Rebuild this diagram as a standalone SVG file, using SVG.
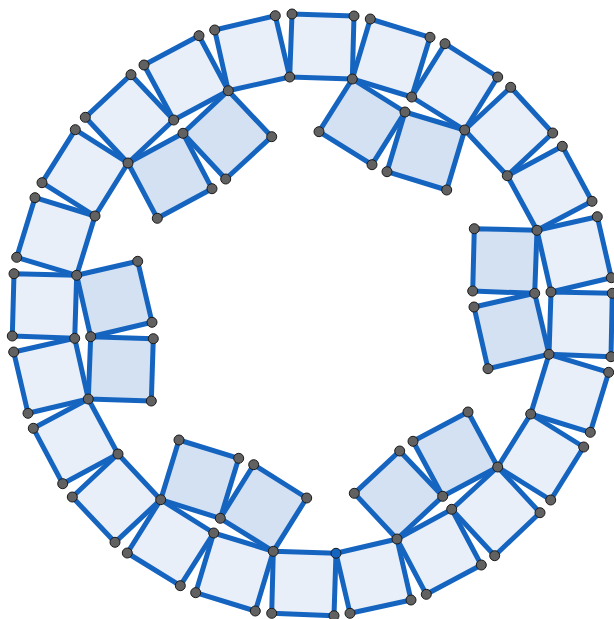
<svg xmlns="http://www.w3.org/2000/svg" width="614" height="619" viewBox="0 0 614 619">
<style>
.o{fill:#E8EFF9;stroke:#1565C0;stroke-width:5;stroke-linejoin:round}
.i{fill:#D4E1F2;stroke:#1565C0;stroke-width:5;stroke-linejoin:round}
.p{fill:#616161;stroke:#1a1a1a;stroke-width:1}
.pb{fill:#1565C0;stroke:#1a1a1a;stroke-width:1}
</style>
<rect width="614" height="619" fill="#ffffff"/>
<g id="outer-ring">
<polygon class="o" points="292,14 354,16 352.3,79 289.7,77"/>
<polygon class="o" points="370.3,19 430,37.3 411.7,97 352.3,79"/>
<polygon class="o" points="445,43.7 497.7,77 464.7,130 411.7,97"/>
<polygon class="o" points="510.7,87.3 552.7,133 507.3,175.7 464.7,130"/>
<polygon class="o" points="562.3,146.3 592,201.3 537,230.3 507.3,175.7"/>
<polygon class="o" points="597.3,216.7 611.3,277.7 551,292 537,230.3"/>
<polygon class="o" points="612.3,293.3 611,356.7 549,354.3 551,292"/>
<polygon class="o" points="608.7,372.3 590.3,432.3 530.7,414 549,354.3"/>
<polygon class="o" points="583.7,447 550.7,500 497.7,467 530.7,414"/>
<polygon class="o" points="540,512.7 494.7,555.7 451.7,509.3 497.7,467"/>
<polygon class="o" points="481.3,565 426.3,594.3 397,539 451.7,509.3"/>
<polygon class="o" points="411,600 350,613.3 336,553.3 397,539"/>
<polygon class="o" points="334,615.7 271.7,613.3 273.3,551.3 336,553.3"/>
<polygon class="o" points="255.3,611 195.7,592.7 213.7,533 273.3,551.3"/>
<polygon class="o" points="180.3,585.7 127.3,553 160.7,499.7 213.7,533"/>
<polygon class="o" points="115,542.3 72.3,497 118,454 160.7,499.7"/>
<polygon class="o" points="62.7,483.7 33.3,428.3 88.3,399 118,454"/>
<polygon class="o" points="28,413.3 13.7,352 74.7,338.3 88.3,399"/>
<polygon class="o" points="12.3,336 14,273.7 76.7,275.3 74.7,338.3"/>
<polygon class="o" points="16.7,257.3 35,197.7 95,216 76.7,275.3"/>
<polygon class="o" points="42,182.7 75.3,129.7 128,163 95,216"/>
<polygon class="o" points="85.3,117.3 131,74.7 173.7,120 128,163"/>
<polygon class="o" points="144,65 199,35.7 228.3,90.7 173.7,120"/>
<polygon class="o" points="214.7,30 275.3,15.7 289.7,77 228.3,90.7"/>
</g>
<g id="inner-squares">
<polygon class="i" points="228.3,90.7 271.7,136.7 225.7,179 183,133.3"/>
<polygon class="i" points="128,163 183,133.3 212,188.7 157.3,218.3"/>
<polygon class="i" points="76.7,275.3 137.7,261.3 152,322.3 90.7,336.7"/>
<polygon class="i" points="90.7,336.7 153.3,338.7 151.3,401 88.3,399"/>
<polygon class="i" points="160.7,499.7 179,440 238.7,458.3 220.3,518.3"/>
<polygon class="i" points="253.7,464.7 306.7,498 273.3,551.3 220.3,518.3"/>
<polygon class="i" points="354.3,493.3 399.7,451 442.7,496.3 397,539"/>
<polygon class="i" points="413,441.3 468,412 497.7,467 442.7,496.3"/>
<polygon class="i" points="474,307 534.7,293.3 549,354.3 488,368.7"/>
<polygon class="i" points="474.3,228.7 537,230.3 534.7,293.3 472.7,291"/>
<polygon class="i" points="352.3,79 405,112 372,164.7 319,131.7"/>
<polygon class="i" points="405,112 464.7,130 446.7,190 387,171.7"/>
</g>
<g id="points">
<circle class="p" cx="292" cy="14" r="5"/><circle class="p" cx="354" cy="16" r="5"/><circle class="p" cx="352.3" cy="79" r="5"/><circle class="p" cx="289.7" cy="77" r="5"/>
<circle class="p" cx="370.3" cy="19" r="5"/><circle class="p" cx="430" cy="37.3" r="5"/><circle class="p" cx="411.7" cy="97" r="5"/>
<circle class="p" cx="445" cy="43.7" r="5"/><circle class="p" cx="497.7" cy="77" r="5"/><circle class="p" cx="464.7" cy="130" r="5"/>
<circle class="p" cx="510.7" cy="87.3" r="5"/><circle class="p" cx="552.7" cy="133" r="5"/><circle class="p" cx="507.3" cy="175.7" r="5"/>
<circle class="p" cx="562.3" cy="146.3" r="5"/><circle class="p" cx="592" cy="201.3" r="5"/><circle class="p" cx="537" cy="230.3" r="5"/>
<circle class="p" cx="597.3" cy="216.7" r="5"/><circle class="p" cx="611.3" cy="277.7" r="5"/><circle class="p" cx="551" cy="292" r="5"/>
<circle class="p" cx="612.3" cy="293.3" r="5"/><circle class="p" cx="611" cy="356.7" r="5"/><circle class="p" cx="549" cy="354.3" r="5"/>
<circle class="p" cx="608.7" cy="372.3" r="5"/><circle class="p" cx="590.3" cy="432.3" r="5"/><circle class="p" cx="530.7" cy="414" r="5"/>
<circle class="p" cx="583.7" cy="447" r="5"/><circle class="p" cx="550.7" cy="500" r="5"/><circle class="p" cx="497.7" cy="467" r="5"/>
<circle class="p" cx="540" cy="512.7" r="5"/><circle class="p" cx="494.7" cy="555.7" r="5"/><circle class="p" cx="451.7" cy="509.3" r="5"/>
<circle class="p" cx="481.3" cy="565" r="5"/><circle class="p" cx="426.3" cy="594.3" r="5"/><circle class="p" cx="397" cy="539" r="5"/>
<circle class="p" cx="411" cy="600" r="5"/><circle class="p" cx="350" cy="613.3" r="5"/><circle class="pb" cx="336" cy="553.3" r="5"/>
<circle class="p" cx="334" cy="615.7" r="5"/><circle class="p" cx="271.7" cy="613.3" r="5"/><circle class="p" cx="273.3" cy="551.3" r="5"/>
<circle class="p" cx="255.3" cy="611" r="5"/><circle class="p" cx="195.7" cy="592.7" r="5"/><circle class="p" cx="213.7" cy="533" r="5"/>
<circle class="p" cx="180.3" cy="585.7" r="5"/><circle class="p" cx="127.3" cy="553" r="5"/><circle class="p" cx="160.7" cy="499.7" r="5"/>
<circle class="p" cx="115" cy="542.3" r="5"/><circle class="p" cx="72.3" cy="497" r="5"/><circle class="p" cx="118" cy="454" r="5"/>
<circle class="p" cx="62.7" cy="483.7" r="5"/><circle class="p" cx="33.3" cy="428.3" r="5"/><circle class="p" cx="88.3" cy="399" r="5"/>
<circle class="p" cx="28" cy="413.3" r="5"/><circle class="p" cx="13.7" cy="352" r="5"/><circle class="p" cx="74.7" cy="338.3" r="5"/>
<circle class="p" cx="12.3" cy="336" r="5"/><circle class="p" cx="14" cy="273.7" r="5"/><circle class="p" cx="76.7" cy="275.3" r="5"/>
<circle class="p" cx="16.7" cy="257.3" r="5"/><circle class="p" cx="35" cy="197.7" r="5"/><circle class="p" cx="95" cy="216" r="5"/>
<circle class="p" cx="42" cy="182.7" r="5"/><circle class="p" cx="75.3" cy="129.7" r="5"/><circle class="p" cx="128" cy="163" r="5"/>
<circle class="p" cx="85.3" cy="117.3" r="5"/><circle class="p" cx="131" cy="74.7" r="5"/><circle class="p" cx="173.7" cy="120" r="5"/>
<circle class="p" cx="144" cy="65" r="5"/><circle class="p" cx="199" cy="35.7" r="5"/><circle class="p" cx="228.3" cy="90.7" r="5"/>
<circle class="p" cx="214.7" cy="30" r="5"/><circle class="p" cx="275.3" cy="15.7" r="5"/>
<circle class="p" cx="271.7" cy="136.7" r="5"/><circle class="p" cx="225.7" cy="179" r="5"/><circle class="p" cx="183" cy="133.3" r="5"/>
<circle class="p" cx="212" cy="188.7" r="5"/><circle class="p" cx="157.3" cy="218.3" r="5"/>
<circle class="p" cx="137.7" cy="261.3" r="5"/><circle class="p" cx="152" cy="322.3" r="5"/><circle class="p" cx="90.7" cy="336.7" r="5"/>
<circle class="p" cx="153.3" cy="338.7" r="5"/><circle class="p" cx="151.3" cy="401" r="5"/>
<circle class="p" cx="179" cy="440" r="5"/><circle class="p" cx="238.7" cy="458.3" r="5"/><circle class="p" cx="220.3" cy="518.3" r="5"/>
<circle class="p" cx="253.7" cy="464.7" r="5"/><circle class="p" cx="306.7" cy="498" r="5"/>
<circle class="p" cx="354.3" cy="493.3" r="5"/><circle class="p" cx="399.7" cy="451" r="5"/><circle class="p" cx="442.7" cy="496.3" r="5"/>
<circle class="p" cx="413" cy="441.3" r="5"/><circle class="p" cx="468" cy="412" r="5"/>
<circle class="p" cx="474" cy="307" r="5"/><circle class="p" cx="534.7" cy="293.3" r="5"/><circle class="p" cx="488" cy="368.7" r="5"/>
<circle class="p" cx="474.3" cy="228.7" r="5"/><circle class="p" cx="472.7" cy="291" r="5"/>
<circle class="p" cx="405" cy="112" r="5"/><circle class="p" cx="372" cy="164.7" r="5"/><circle class="p" cx="319" cy="131.7" r="5"/>
<circle class="p" cx="446.7" cy="190" r="5"/><circle class="p" cx="387" cy="171.7" r="5"/>
</g>
</svg>
